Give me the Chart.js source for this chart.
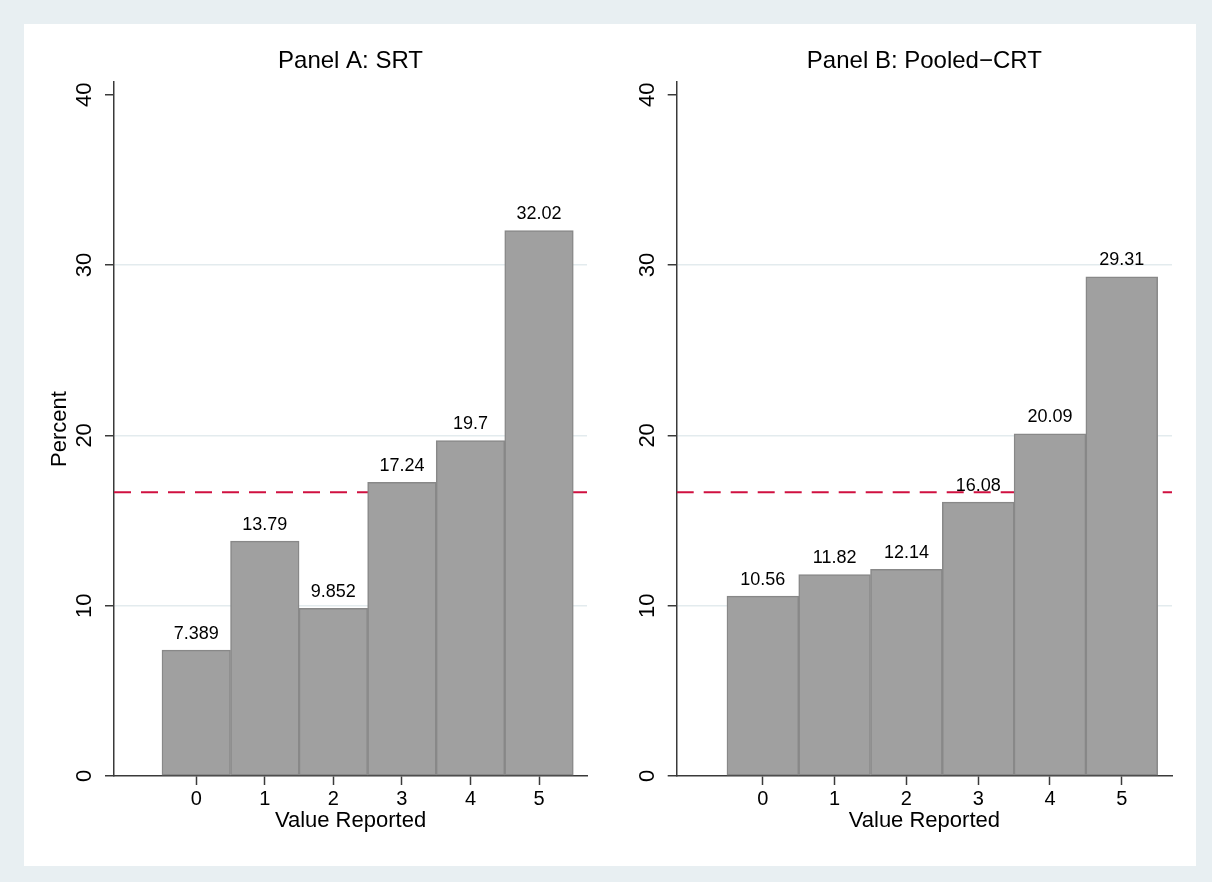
<!DOCTYPE html>
<html><head><meta charset="utf-8">
<script src="https://cdn.jsdelivr.net/npm/chart.js@4.4.1/dist/chart.umd.min.js"></script>
<style>
html,body{margin:0;padding:0;background:#e8eff2;}
body{width:1212px;height:882px;position:relative;overflow:hidden;}
#panel{position:absolute;left:24px;top:24px;width:1172px;height:842px;background:#fff;}
#cA{position:absolute;left:0;top:0;}
#cB{position:absolute;left:581px;top:0;}
</style></head><body>
<div id="panel"><canvas id="cA" width="581" height="842"></canvas><canvas id="cB" width="591" height="842"></canvas></div>
<script>
// ---- data ----
const valuesReported = [0, 1, 2, 3, 4, 5];
const srtPercent = [7.389, 13.79, 9.852, 17.24, 19.7, 32.02];
const pooledCrtPercent = [10.56, 11.82, 12.14, 16.08, 20.09, 29.31];
const yTickValues = [0, 10, 20, 30, 40];
const xRange = [-1.2, 5.7];
const yRange = [0, 40.75];
const chanceLevel = 100 / 6;
const panelTitles = ['Panel A: SRT', 'Panel B: Pooled\u2212CRT'];
const xTitle = 'Value Reported';
const yTitle = 'Percent';

// ---- style ----
const FONT = '"Liberation Sans", Arial, Helvetica, sans-serif';
const AXIS = '#3a3a3a';
const GRID = '#e3ebee';
Chart.defaults.font.family = FONT;
Chart.defaults.color = '#000';

const barLabels = {
  id: 'barLabels',
  afterDatasetsDraw(chart) {
    const ctx = chart.ctx;
    const meta = chart.getDatasetMeta(0);
    const data = chart.data.datasets[0].data;
    ctx.save();
    ctx.font = '18px ' + FONT;
    ctx.fillStyle = '#000';
    ctx.textAlign = 'center';
    ctx.textBaseline = 'alphabetic';
    meta.data.forEach((bar, i) => {
      const v = data[i].y;
      ctx.fillText(String(Number(v.toPrecision(4))), bar.x, bar.y - 11.5);
    });
    ctx.restore();
  }
};

function makeChart(id, title, values, yWidth, rightPad, showYTitle) {
  return new Chart(document.getElementById(id), {
    data: {
      datasets: [
        {
          type: 'bar',
          order: 0,
          data: valuesReported.map((x, i) => ({x: x, y: values[i]})),
          backgroundColor: '#a0a0a0',
          borderColor: '#888888',
          borderWidth: 1.5,
          borderSkipped: false,
          barPercentage: 1,
          categoryPercentage: 1
        },
        {
          type: 'line',
          order: 1,
          data: [{x: xRange[0], y: chanceLevel}, {x: xRange[1], y: chanceLevel}],
          borderColor: '#d01040',
          borderWidth: 2,
          borderDash: [17, 10],
          pointRadius: 0,
          fill: false
        }
      ]
    },
    options: {
      responsive: false,
      animation: false,
      layout: {padding: {left: 0, top: 0, right: rightPad, bottom: 0}},
      plugins: {
        legend: {display: false},
        tooltip: {enabled: false},
        title: {
          display: true, text: title, fullSize: false,
          font: {size: 24, weight: 'normal'}, color: '#000',
          padding: {top: 22.6, bottom: 6.6}
        }
      },
      scales: {
        x: {
          type: 'linear', min: xRange[0], max: xRange[1], offset: false,
          afterBuildTicks: s => { s.ticks = valuesReported.map(v => ({value: v})); },
          grid: {offset: false, drawOnChartArea: false, tickLength: 9, tickColor: AXIS, tickWidth: 1.5},
          border: {color: AXIS, width: 1.5},
          ticks: {font: {size: 20}, padding: 2, color: '#000', minRotation: 0, maxRotation: 0},
          title: {display: true, text: xTitle, font: {size: 22}, color: '#000', padding: {top: 0, bottom: 32}},
          afterFit: s => { s.height = 90; }
        },
        y: {
          type: 'linear', min: yRange[0], max: yRange[1],
          afterBuildTicks: s => { s.ticks = yTickValues.map(v => ({value: v})); },
          grid: {
            color: c => (c.tick && (c.tick.value === yTickValues[0] || c.tick.value === yTickValues[yTickValues.length - 1])) ? 'rgba(0,0,0,0)' : GRID,
            lineWidth: 1.5, tickLength: 9, tickColor: AXIS, tickWidth: 1.5
          },
          border: {color: AXIS, width: 1.5},
          ticks: {font: {size: 22}, padding: 8, color: '#000', minRotation: 90, maxRotation: 90, crossAlign: 'center'},
          title: {display: showYTitle, text: yTitle, font: {size: 22}, color: '#000', padding: {top: 22.8, bottom: 0}},
          afterFit: s => { s.width = yWidth; }
        }
      }
    },
    plugins: [barLabels]
  });
}

makeChart('cA', panelTitles[0], srtPercent, 90, 18, true);
makeChart('cB', panelTitles[1], pooledCrtPercent, 71.7, 24, false);
</script>
</body></html>
